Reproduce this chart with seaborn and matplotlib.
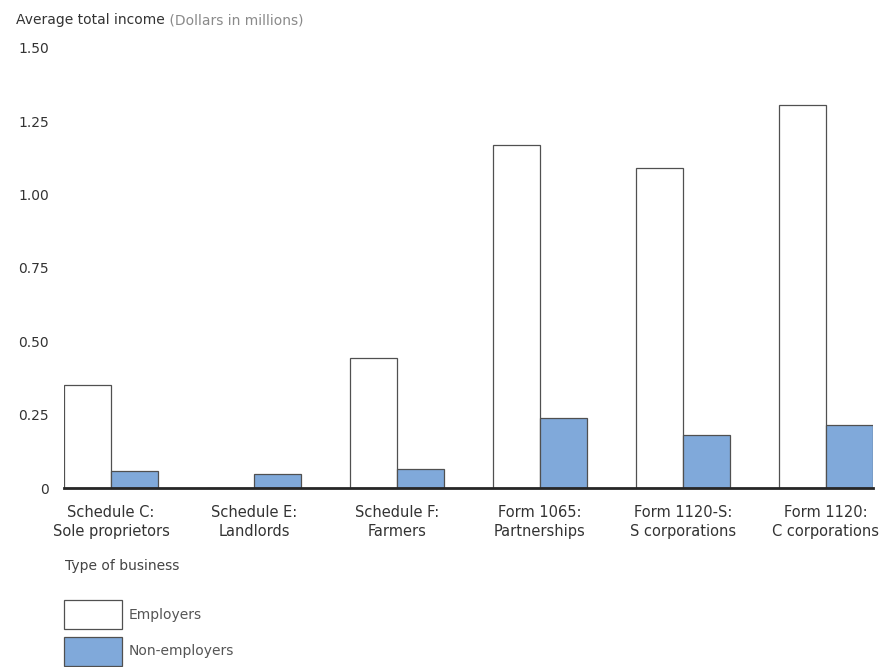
import matplotlib
matplotlib.use("Agg")
import matplotlib.pyplot as plt
import seaborn as sns
import pandas as pd

# Average total income by type of business, in millions of dollars
business_types = [
    "Schedule C:\nSole proprietors",
    "Schedule E:\nLandlords",
    "Schedule F:\nFarmers",
    "Form 1065:\nPartnerships",
    "Form 1120-S:\nS corporations",
    "Form 1120:\nC corporations",
]
employers = [0.35, 0.0, 0.443, 1.17, 1.09, 1.305]
non_employers = [0.058, 0.048, 0.065, 0.239, 0.181, 0.215]
series_names = ["Employers", "Non-employers"]
y_ticks = [0, 0.25, 0.50, 0.75, 1.00, 1.25, 1.50]
y_tick_labels = ["0", "0.25", "0.50", "0.75", "1.00", "1.25", "1.50"]

df = pd.DataFrame({
    "business": business_types * 2,
    "income": employers + non_employers,
    "group": [series_names[0]] * len(business_types) + [series_names[1]] * len(business_types),
})

sns.set_theme(style="white")
plt.rcParams["font.family"] = ["DejaVu Sans"]

W, H = 895, 667
fig = plt.figure(figsize=(W / 100, H / 100), dpi=100)
ax = fig.add_axes([64 / W, (H - 488) / H, (873 - 64) / W, 440 / H])

palette = {"Employers": "white", "Non-employers": "#80a9da"}
sns.barplot(
    data=df, x="business", y="income", hue="group",
    hue_order=series_names, order=business_types,
    palette=palette, width=0.66, edgecolor="#505050", linewidth=0.9,
    saturation=1, ax=ax,
)

handles, labels = ax.get_legend_handles_labels()
if ax.get_legend() is not None:
    ax.get_legend().remove()

ax.set_xlim(-0.33, 5.33)
ax.set_ylim(0, 1.5)
ax.set_yticks(y_ticks)
ax.set_yticklabels(y_tick_labels)
ax.set_xlabel("")
ax.set_ylabel("")

for side in ["top", "right", "left"]:
    ax.spines[side].set_visible(False)
ax.spines["bottom"].set_color("#262626")
ax.spines["bottom"].set_linewidth(2.0)
ax.spines["bottom"].set_zorder(5)

ax.tick_params(axis="y", length=0, pad=11, labelsize=10, labelcolor="#333333")
ax.tick_params(axis="x", length=0, pad=12, labelsize=10.5, labelcolor="#333333")
for lab in ax.get_xticklabels():
    lab.set_linespacing(1.35)

# Title in two tones
t1 = fig.text(16 / W, 1 - 20 / H, "Average total income", fontsize=10,
              color="#333333", va="center", ha="left")
ax.annotate(" (Dollars in millions)", xy=(1, 0.5), xycoords=t1,
            va="center", ha="left", fontsize=10, color="#8a8a8a",
            annotation_clip=False)

fig.text(65 / W, 1 - 566 / H, "Type of business", fontsize=10,
         color="#444444", va="center", ha="left")

fig.legend(
    handles, labels, loc="upper left",
    bbox_to_anchor=(64 / W, 1 - 600 / H), frameon=False,
    fontsize=10, labelcolor="#555555",
    handlelength=4.2, handleheight=2.83, handletextpad=0.45,
    labelspacing=0.55, borderpad=0, borderaxespad=0,
)

fig.savefig("out.png", dpi=100, facecolor="white")
